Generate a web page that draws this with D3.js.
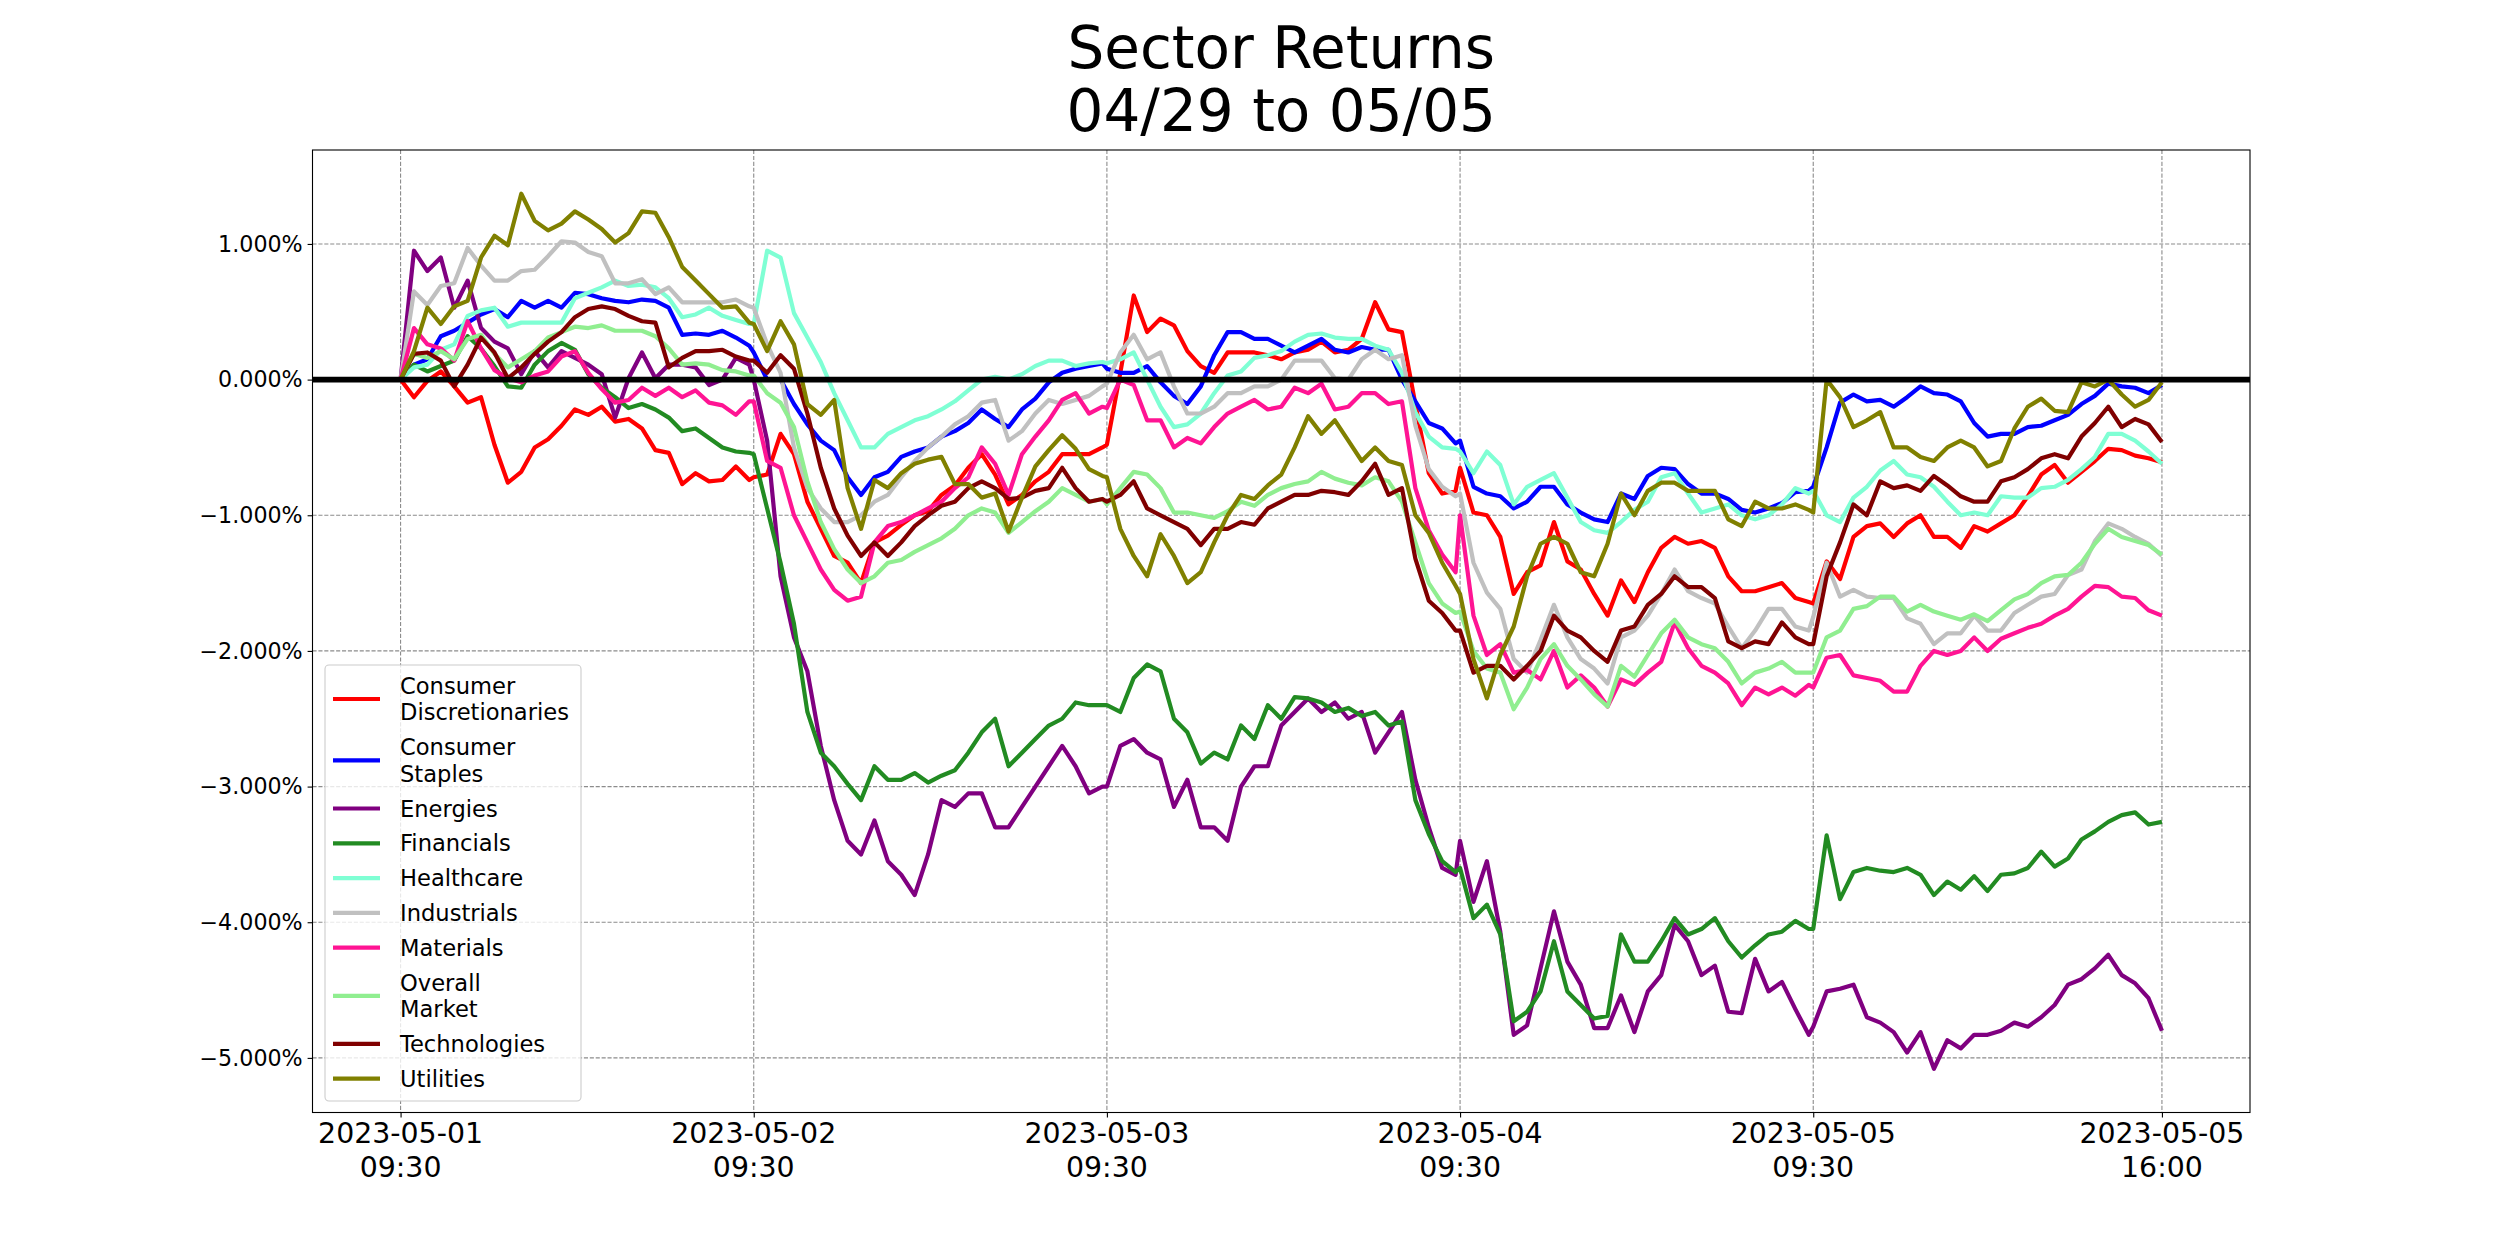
<!DOCTYPE html>
<html>
<head>
<meta charset="utf-8">
<script src="https://cdn.jsdelivr.net/npm/d3@7"></script>
<style>
  html, body { margin: 0; padding: 0; background: #ffffff; }
  svg { display: block; font-family: "DejaVu Sans", sans-serif; }
</style>
</head>
<body>
<div id="chart"></div>
<script>
// ---------------- DATA ----------------
const titleLines = ["Sector Returns", "04/29 to 05/05"];
const days = ["2023-05-01", "2023-05-02", "2023-05-03", "2023-05-04", "2023-05-05"];
const barsPerDay = 79;          // 5-minute bars 09:30 .. 16:00
const sampleStep = 3;           // values below are read every 15 minutes
const samplesPerDay = 27;
const xTickIndex = [0, 79, 158, 237, 316, 394];
const xTickLabels = [["2023-05-01", "09:30"], ["2023-05-02", "09:30"], ["2023-05-03", "09:30"],
                     ["2023-05-04", "09:30"], ["2023-05-05", "09:30"], ["2023-05-05", "16:00"]];
const yTicks = [-5, -4, -3, -2, -1, 0, 1];

const sectorNames = ["Consumer\nDiscretionaries", "Consumer\nStaples", "Energies", "Financials",
  "Healthcare", "Industrials", "Materials", "Overall\nMarket", "Technologies", "Utilities"];
const sectorColors = ["#ff0000", "#0000ff", "#800080", "#228b22", "#7fffd4", "#c0c0c0",
  "#ff1493", "#90ee90", "#800000", "#808000"];

// returns in percent, 27 values per day
const consumerDiscretionaries = [
  0, -0.13, -0.01, 0.06, -0.05, -0.17, -0.13, -0.48, -0.76, -0.68, -0.50, -0.44, -0.34, -0.22, -0.26, -0.20, -0.31, -0.29, -0.36, -0.52, -0.54, -0.77, -0.69, -0.75, -0.74, -0.64, -0.74,
  -0.72, -0.70, -0.40, -0.55, -0.90, -1.10, -1.30, -1.35, -1.50, -1.20, -1.15, -1.07, -1.00, -0.97, -0.85, -0.78, -0.65, -0.55, -0.70, -0.92, -0.85, -0.75, -0.68, -0.55, -0.55, -0.55, -0.50,
  -0.48, 0.05, 0.62, 0.35, 0.45, 0.40, 0.21, 0.10, 0.05, 0.20, 0.20, 0.20, 0.18, 0.15, 0.20, 0.22, 0.28, 0.20, 0.22, 0.30, 0.57, 0.37, 0.35, -0.18, -0.69, -0.84, -0.82,
  -0.65, -0.98, -1.00, -1.16, -1.58, -1.42, -1.37, -1.05, -1.34, -1.40, -1.58, -1.74, -1.48, -1.64, -1.42, -1.24, -1.16, -1.21, -1.19, -1.24, -1.45, -1.56, -1.56, -1.53, -1.50, -1.61, -1.64,
  -1.65, -1.34, -1.47, -1.16, -1.08, -1.06, -1.16, -1.06, -1.00, -1.16, -1.16, -1.24, -1.08, -1.12, -1.06, -1.00, -0.86, -0.70, -0.63, -0.76, -0.68, -0.60, -0.51, -0.52, -0.56, -0.58, -0.61
];
const consumerStaples = [
  0, 0.11, 0.15, 0.32, 0.36, 0.42, 0.48, 0.52, 0.46, 0.58, 0.53, 0.58, 0.53, 0.64, 0.63, 0.60, 0.58, 0.57, 0.59, 0.58, 0.53, 0.33, 0.34, 0.33, 0.36, 0.31, 0.25,
  0.20, 0.00, 0.00, -0.18, -0.33, -0.45, -0.52, -0.72, -0.85, -0.72, -0.68, -0.57, -0.53, -0.50, -0.42, -0.38, -0.32, -0.22, -0.29, -0.35, -0.22, -0.14, -0.02, 0.05, 0.08, 0.10, 0.12,
  0.08, 0.05, 0.05, 0.10, -0.02, -0.12, -0.18, -0.05, 0.18, 0.35, 0.35, 0.30, 0.30, 0.25, 0.20, 0.25, 0.30, 0.22, 0.20, 0.24, 0.22, 0.22, 0.00, -0.16, -0.32, -0.36, -0.47,
  -0.45, -0.79, -0.84, -0.86, -0.95, -0.90, -0.79, -0.79, -0.92, -0.98, -1.03, -1.05, -0.84, -0.88, -0.71, -0.65, -0.66, -0.77, -0.84, -0.84, -0.88, -0.96, -0.98, -0.95, -0.91, -0.83, -0.82,
  -0.79, -0.50, -0.17, -0.11, -0.16, -0.15, -0.20, -0.13, -0.05, -0.10, -0.11, -0.16, -0.32, -0.42, -0.40, -0.40, -0.35, -0.34, -0.30, -0.26, -0.18, -0.12, -0.03, -0.05, -0.06, -0.10, -0.04
];
const energies = [
  0, 0.95, 0.80, 0.90, 0.53, 0.73, 0.38, 0.28, 0.23, 0.04, 0.21, 0.09, 0.21, 0.16, 0.11, 0.04, -0.28, 0.01, 0.20, 0.01, 0.11, 0.11, 0.09, -0.04, 0.00, 0.16, 0.11,
  0.00, -0.45, -1.45, -1.90, -2.15, -2.70, -3.10, -3.40, -3.50, -3.25, -3.55, -3.65, -3.80, -3.50, -3.10, -3.15, -3.05, -3.05, -3.30, -3.30, -3.15, -3.00, -2.85, -2.70, -2.85, -3.05, -3.00,
  -3.00, -2.70, -2.65, -2.75, -2.80, -3.15, -2.95, -3.30, -3.30, -3.40, -3.00, -2.85, -2.85, -2.55, -2.45, -2.35, -2.45, -2.38, -2.50, -2.45, -2.75, -2.60, -2.45, -2.95, -3.30, -3.60, -3.65,
  -3.40, -3.85, -3.55, -4.07, -4.83, -4.76, -4.34, -3.92, -4.29, -4.46, -4.78, -4.78, -4.54, -4.81, -4.51, -4.39, -4.02, -4.14, -4.39, -4.32, -4.66, -4.67, -4.27, -4.51, -4.44, -4.64, -4.83,
  -4.77, -4.51, -4.49, -4.46, -4.70, -4.74, -4.81, -4.96, -4.81, -5.08, -4.87, -4.93, -4.83, -4.83, -4.80, -4.74, -4.77, -4.70, -4.61, -4.46, -4.42, -4.34, -4.24, -4.39, -4.45, -4.56, -4.80
];
const financials = [
  0, 0.11, 0.06, 0.10, 0.14, 0.32, 0.23, 0.10, -0.05, -0.06, 0.11, 0.21, 0.27, 0.22, 0.04, -0.06, -0.13, -0.21, -0.18, -0.22, -0.28, -0.38, -0.36, -0.43, -0.50, -0.53, -0.54,
  -0.55, -0.95, -1.35, -1.80, -2.45, -2.75, -2.85, -2.98, -3.10, -2.85, -2.95, -2.95, -2.90, -2.97, -2.92, -2.88, -2.75, -2.60, -2.50, -2.85, -2.75, -2.65, -2.55, -2.50, -2.38, -2.40, -2.40,
  -2.40, -2.45, -2.20, -2.10, -2.15, -2.50, -2.60, -2.83, -2.75, -2.80, -2.55, -2.65, -2.40, -2.50, -2.34, -2.35, -2.38, -2.45, -2.42, -2.48, -2.45, -2.55, -2.52, -3.10, -3.35, -3.55, -3.63,
  -3.60, -3.97, -3.87, -4.09, -4.73, -4.66, -4.51, -4.14, -4.51, -4.61, -4.71, -4.69, -4.09, -4.29, -4.29, -4.14, -3.97, -4.09, -4.05, -3.97, -4.14, -4.26, -4.17, -4.09, -4.07, -3.99, -4.05,
  -4.05, -3.36, -3.83, -3.63, -3.60, -3.62, -3.63, -3.60, -3.65, -3.80, -3.70, -3.76, -3.66, -3.77, -3.65, -3.64, -3.60, -3.48, -3.59, -3.53, -3.39, -3.33, -3.26, -3.21, -3.19, -3.28, -3.26
];
const healthcare = [
  0, 0.09, 0.11, 0.22, 0.26, 0.47, 0.51, 0.53, 0.39, 0.42, 0.42, 0.42, 0.42, 0.60, 0.64, 0.68, 0.73, 0.69, 0.70, 0.68, 0.60, 0.46, 0.48, 0.53, 0.47, 0.44, 0.41,
  0.41, 0.95, 0.90, 0.49, 0.31, 0.13, -0.10, -0.30, -0.50, -0.50, -0.40, -0.35, -0.30, -0.27, -0.22, -0.16, -0.08, 0.00, 0.02, 0.00, 0.04, 0.10, 0.14, 0.14, 0.10, 0.12, 0.13,
  0.12, 0.15, 0.20, 0.00, -0.20, -0.35, -0.33, -0.25, -0.10, 0.03, 0.06, 0.16, 0.18, 0.21, 0.28, 0.33, 0.34, 0.31, 0.30, 0.30, 0.25, 0.22, 0.05, -0.24, -0.42, -0.50, -0.51,
  -0.53, -0.69, -0.53, -0.63, -0.92, -0.79, -0.74, -0.69, -0.87, -1.05, -1.11, -1.13, -1.05, -0.96, -0.90, -0.72, -0.69, -0.84, -0.98, -0.95, -0.92, -1.00, -1.03, -1.00, -0.92, -0.80, -0.84,
  -0.82, -1.00, -1.05, -0.87, -0.79, -0.67, -0.60, -0.70, -0.72, -0.79, -0.90, -1.00, -0.98, -1.00, -0.86, -0.87, -0.87, -0.80, -0.79, -0.74, -0.66, -0.57, -0.40, -0.40, -0.45, -0.53, -0.62
];
const industrials = [
  0, 0.65, 0.55, 0.69, 0.71, 0.97, 0.84, 0.73, 0.73, 0.80, 0.81, 0.91, 1.02, 1.01, 0.94, 0.91, 0.71, 0.71, 0.74, 0.63, 0.68, 0.57, 0.57, 0.57, 0.57, 0.59, 0.54,
  0.53, 0.26, 0.05, -0.50, -0.80, -0.95, -1.05, -1.05, -1.00, -0.90, -0.85, -0.72, -0.60, -0.50, -0.42, -0.33, -0.27, -0.17, -0.15, -0.45, -0.38, -0.25, -0.15, -0.18, -0.15, -0.12, -0.05,
  -0.03, 0.20, 0.33, 0.15, 0.20, -0.05, -0.25, -0.25, -0.20, -0.10, -0.10, -0.05, -0.05, 0.00, 0.14, 0.14, 0.14, 0.01, 0.00, 0.15, 0.22, 0.15, 0.18, -0.34, -0.66, -0.79, -0.86,
  -0.84, -1.35, -1.57, -1.69, -2.06, -2.16, -1.92, -1.66, -1.90, -2.06, -2.13, -2.24, -1.90, -1.85, -1.74, -1.58, -1.40, -1.56, -1.61, -1.65, -1.82, -1.98, -1.85, -1.69, -1.69, -1.82, -1.85,
  -1.75, -1.35, -1.60, -1.55, -1.60, -1.61, -1.61, -1.76, -1.80, -1.95, -1.87, -1.87, -1.74, -1.85, -1.85, -1.72, -1.66, -1.60, -1.58, -1.44, -1.40, -1.19, -1.06, -1.10, -1.16, -1.21, -1.30
];
const materials = [
  0, 0.38, 0.26, 0.23, 0.14, 0.43, 0.23, 0.07, 0.01, -0.02, 0.03, 0.06, 0.17, 0.21, 0.05, -0.07, -0.17, -0.15, -0.06, -0.12, -0.06, -0.13, -0.08, -0.17, -0.19, -0.26, -0.16,
  -0.16, -0.60, -0.65, -1.00, -1.20, -1.40, -1.55, -1.63, -1.60, -1.20, -1.08, -1.05, -1.00, -0.95, -0.90, -0.80, -0.72, -0.50, -0.62, -0.85, -0.55, -0.42, -0.30, -0.15, -0.10, -0.25, -0.20,
  -0.21, 0.00, -0.04, -0.30, -0.30, -0.50, -0.43, -0.47, -0.35, -0.25, -0.20, -0.15, -0.22, -0.20, -0.06, -0.10, -0.03, -0.22, -0.20, -0.10, -0.10, -0.18, -0.16, -0.80, -1.11, -1.29, -1.42,
  -1.00, -1.74, -2.03, -1.95, -2.16, -2.14, -2.21, -2.00, -2.27, -2.18, -2.27, -2.41, -2.21, -2.25, -2.16, -2.08, -1.79, -1.98, -2.11, -2.16, -2.24, -2.40, -2.27, -2.32, -2.27, -2.33, -2.25,
  -2.27, -2.05, -2.03, -2.18, -2.20, -2.22, -2.30, -2.30, -2.11, -2.00, -2.03, -2.00, -1.90, -2.00, -1.91, -1.87, -1.83, -1.80, -1.74, -1.69, -1.60, -1.52, -1.53, -1.60, -1.61, -1.70, -1.74
];
const overallMarket = [
  0, 0.19, 0.16, 0.21, 0.15, 0.30, 0.33, 0.19, 0.09, 0.15, 0.21, 0.31, 0.35, 0.39, 0.38, 0.40, 0.36, 0.36, 0.36, 0.32, 0.23, 0.11, 0.12, 0.11, 0.07, 0.06, 0.03,
  0.03, -0.10, -0.17, -0.35, -0.75, -1.05, -1.25, -1.40, -1.50, -1.45, -1.35, -1.33, -1.27, -1.22, -1.17, -1.10, -1.00, -0.95, -0.98, -1.13, -1.05, -0.97, -0.90, -0.80, -0.85, -0.90, -0.88,
  -0.92, -0.80, -0.68, -0.70, -0.80, -0.98, -0.98, -1.00, -1.02, -0.97, -0.90, -0.93, -0.85, -0.80, -0.77, -0.75, -0.68, -0.73, -0.76, -0.78, -0.72, -0.75, -0.90, -1.20, -1.50, -1.65, -1.72,
  -1.71, -2.00, -2.13, -2.16, -2.43, -2.27, -2.06, -1.95, -2.11, -2.21, -2.32, -2.41, -2.11, -2.19, -2.03, -1.87, -1.77, -1.90, -1.95, -1.98, -2.08, -2.24, -2.16, -2.13, -2.08, -2.16, -2.16,
  -2.16, -1.90, -1.85, -1.69, -1.67, -1.60, -1.60, -1.71, -1.66, -1.71, -1.74, -1.77, -1.73, -1.78, -1.70, -1.62, -1.58, -1.50, -1.45, -1.44, -1.35, -1.21, -1.10, -1.16, -1.19, -1.22, -1.29
];
const technologies = [
  0, 0.19, 0.20, 0.14, -0.05, 0.11, 0.31, 0.20, 0.01, 0.09, 0.19, 0.28, 0.35, 0.46, 0.52, 0.54, 0.52, 0.47, 0.43, 0.42, 0.09, 0.16, 0.21, 0.21, 0.22, 0.17, 0.14,
  0.14, 0.05, 0.18, 0.08, -0.25, -0.65, -0.95, -1.15, -1.30, -1.20, -1.30, -1.20, -1.08, -1.00, -0.93, -0.90, -0.80, -0.75, -0.80, -0.88, -0.87, -0.82, -0.80, -0.65, -0.80, -0.90, -0.88,
  -0.90, -0.85, -0.75, -0.95, -1.00, -1.05, -1.10, -1.22, -1.10, -1.10, -1.05, -1.07, -0.95, -0.90, -0.85, -0.85, -0.82, -0.83, -0.85, -0.75, -0.62, -0.85, -0.80, -1.32, -1.63, -1.72, -1.85,
  -1.85, -2.16, -2.11, -2.11, -2.21, -2.11, -2.00, -1.74, -1.85, -1.90, -2.00, -2.08, -1.85, -1.82, -1.66, -1.58, -1.45, -1.53, -1.53, -1.61, -1.93, -1.98, -1.93, -1.95, -1.79, -1.90, -1.95,
  -1.95, -1.45, -1.20, -0.92, -1.00, -0.75, -0.80, -0.78, -0.82, -0.71, -0.78, -0.86, -0.90, -0.90, -0.75, -0.72, -0.66, -0.58, -0.55, -0.58, -0.42, -0.32, -0.20, -0.35, -0.29, -0.33, -0.46
];
const utilities = [
  0, 0.21, 0.53, 0.41, 0.54, 0.58, 0.90, 1.06, 0.99, 1.37, 1.17, 1.10, 1.15, 1.24, 1.18, 1.11, 1.01, 1.08, 1.24, 1.23, 1.05, 0.83, 0.73, 0.63, 0.53, 0.54, 0.42,
  0.41, 0.21, 0.43, 0.26, -0.18, -0.26, -0.15, -0.80, -1.10, -0.74, -0.80, -0.69, -0.62, -0.59, -0.57, -0.77, -0.77, -0.87, -0.84, -1.12, -0.87, -0.64, -0.52, -0.41, -0.51, -0.66, -0.71,
  -0.72, -1.10, -1.30, -1.45, -1.14, -1.30, -1.50, -1.42, -1.20, -1.00, -0.85, -0.88, -0.78, -0.70, -0.50, -0.27, -0.40, -0.30, -0.45, -0.60, -0.50, -0.60, -0.63, -1.00, -1.13, -1.35, -1.52,
  -1.58, -2.06, -2.35, -2.03, -1.82, -1.45, -1.21, -1.16, -1.21, -1.42, -1.45, -1.21, -0.84, -1.00, -0.82, -0.76, -0.76, -0.82, -0.82, -0.82, -1.03, -1.08, -0.90, -0.95, -0.95, -0.92, -0.96,
  -0.98, 0.00, -0.13, -0.35, -0.30, -0.24, -0.50, -0.50, -0.57, -0.60, -0.50, -0.45, -0.50, -0.64, -0.60, -0.36, -0.20, -0.14, -0.23, -0.24, -0.02, -0.05, 0.00, -0.11, -0.20, -0.15, -0.02
];

const seriesValues = [consumerDiscretionaries, consumerStaples, energies, financials, healthcare,
  industrials, materials, overallMarket, technologies, utilities];

// ---------------- LAYOUT ----------------
const W = 2500, H = 1250;
const plot = { left: 312.5, right: 2250, top: 150, bottom: 1112.5 };
const FONT = "'DejaVu Sans', 'Liberation Sans', sans-serif";
const LINE_W = 4.2;

// bar index of every sample
const sampleIndex = [];
for (let d = 0; d < days.length; d++)
  for (let k = 0; k < samplesPerDay; k++) sampleIndex.push(d * barsPerDay + k * sampleStep);

const xMin = 0, xMax = 394, yMin = -5.08, yMax = 1.37;
const xPad = (xMax - xMin) * 0.05, yPad = (yMax - yMin) * 0.05;

const x = d3.scaleLinear().domain([xMin - xPad, xMax + xPad]).range([plot.left, plot.right]);
const y = d3.scaleLinear().domain([yMin - yPad, yMax + yPad]).range([plot.bottom, plot.top]);

const svg = d3.select("#chart").append("svg")
  .attr("width", W).attr("height", H)
  .style("font-family", FONT);

svg.append("rect").attr("width", W).attr("height", H).attr("fill", "#ffffff");

// title
const title = svg.append("text")
  .attr("x", (plot.left + plot.right) / 2)
  .attr("text-anchor", "middle")
  .attr("font-size", 58)
  .attr("fill", "#000");
title.selectAll("tspan").data(titleLines).join("tspan")
  .attr("x", (plot.left + plot.right) / 2)
  .attr("y", (d, i) => 68 + i * 63)
  .text(d => d);

// clip
svg.append("defs").append("clipPath").attr("id", "clip")
  .append("rect").attr("x", plot.left).attr("y", plot.top)
  .attr("width", plot.right - plot.left).attr("height", plot.bottom - plot.top);

// grid
const grid = svg.append("g").attr("stroke", "#8c8c8c").attr("stroke-width", 1.1)
  .attr("stroke-dasharray", "4.1,1.8");
grid.selectAll("line.v").data(xTickIndex).join("line")
  .attr("x1", d => x(d)).attr("x2", d => x(d))
  .attr("y1", plot.top).attr("y2", plot.bottom);
grid.selectAll("line.h").data(yTicks).join("line")
  .attr("x1", plot.left).attr("x2", plot.right)
  .attr("y1", d => y(d)).attr("y2", d => y(d));

// series lines
const line = d3.line().x(d => x(d[0])).y(d => y(d[1]));
const lines = svg.append("g").attr("clip-path", "url(#clip)");
seriesValues.forEach((vals, i) => {
  const pts = vals.map((v, j) => [sampleIndex[j], v]);
  lines.append("path")
    .attr("d", line(pts))
    .attr("fill", "none")
    .attr("stroke", sectorColors[i])
    .attr("stroke-width", LINE_W)
    .attr("stroke-linejoin", "round")
    .attr("stroke-linecap", "butt");
});

// zero line
lines.append("line")
  .attr("x1", plot.left).attr("x2", plot.right)
  .attr("y1", y(0)).attr("y2", y(0))
  .attr("stroke", "#000").attr("stroke-width", 5.6);

// axes
const yAxis = d3.axisLeft(y).tickValues(yTicks)
  .tickFormat(d => d3.format(".3f")(d) + "%")
  .tickSize(4.9).tickPadding(4.9);
const gy = svg.append("g").attr("transform", `translate(${plot.left},0)`).call(yAxis);
gy.select(".domain").remove();
gy.selectAll("text").attr("font-size", 22.2).attr("font-family", FONT).attr("fill", "#000");
gy.selectAll("line").attr("stroke", "#000").attr("stroke-width", 1.1);

const xAxis = d3.axisBottom(x).tickValues(xTickIndex).tickFormat("").tickSize(4.9);
const gx = svg.append("g").attr("transform", `translate(0,${plot.bottom})`).call(xAxis);
gx.select(".domain").remove();
gx.selectAll("line").attr("stroke", "#000").attr("stroke-width", 1.1);
const xl = svg.append("g").attr("font-size", 28.4).attr("text-anchor", "middle").attr("fill", "#000");
xTickIndex.forEach((t, i) => {
  const txt = xl.append("text");
  xTickLabels[i].forEach((s, j) => {
    txt.append("tspan").attr("x", x(t)).attr("y", 1143 + j * 34).text(s);
  });
});

// frame
svg.append("rect")
  .attr("x", plot.left).attr("y", plot.top)
  .attr("width", plot.right - plot.left).attr("height", plot.bottom - plot.top)
  .attr("fill", "none").attr("stroke", "#000").attr("stroke-width", 1.1);

// legend
const legend = svg.append("g");
const lg = { x: 325, y: 665, w: 256, h: 436, lineH: 26.6, gap: 8.2, pad: 7.4 };
legend.append("rect")
  .attr("x", lg.x).attr("y", lg.y).attr("width", lg.w).attr("height", lg.h)
  .attr("rx", 4).attr("ry", 4)
  .attr("fill", "#ffffff").attr("fill-opacity", 0.8)
  .attr("stroke", "#cccccc").attr("stroke-width", 1.1);
let cy = lg.y + lg.pad;
sectorNames.forEach((name, i) => {
  const parts = name.split("\n");
  const h = parts.length * lg.lineH;
  const mid = cy + h / 2;
  legend.append("line")
    .attr("x1", 333).attr("x2", 380)
    .attr("y1", mid).attr("y2", mid)
    .attr("stroke", sectorColors[i]).attr("stroke-width", LINE_W);
  const t = legend.append("text").attr("font-size", 22.6).attr("fill", "#000");
  parts.forEach((p, j) => {
    t.append("tspan").attr("x", 400)
      .attr("y", cy + j * lg.lineH + lg.lineH / 2)
      .attr("dy", "0.36em").text(p);
  });
  cy += h + lg.gap;
});
</script>
</body>
</html>
